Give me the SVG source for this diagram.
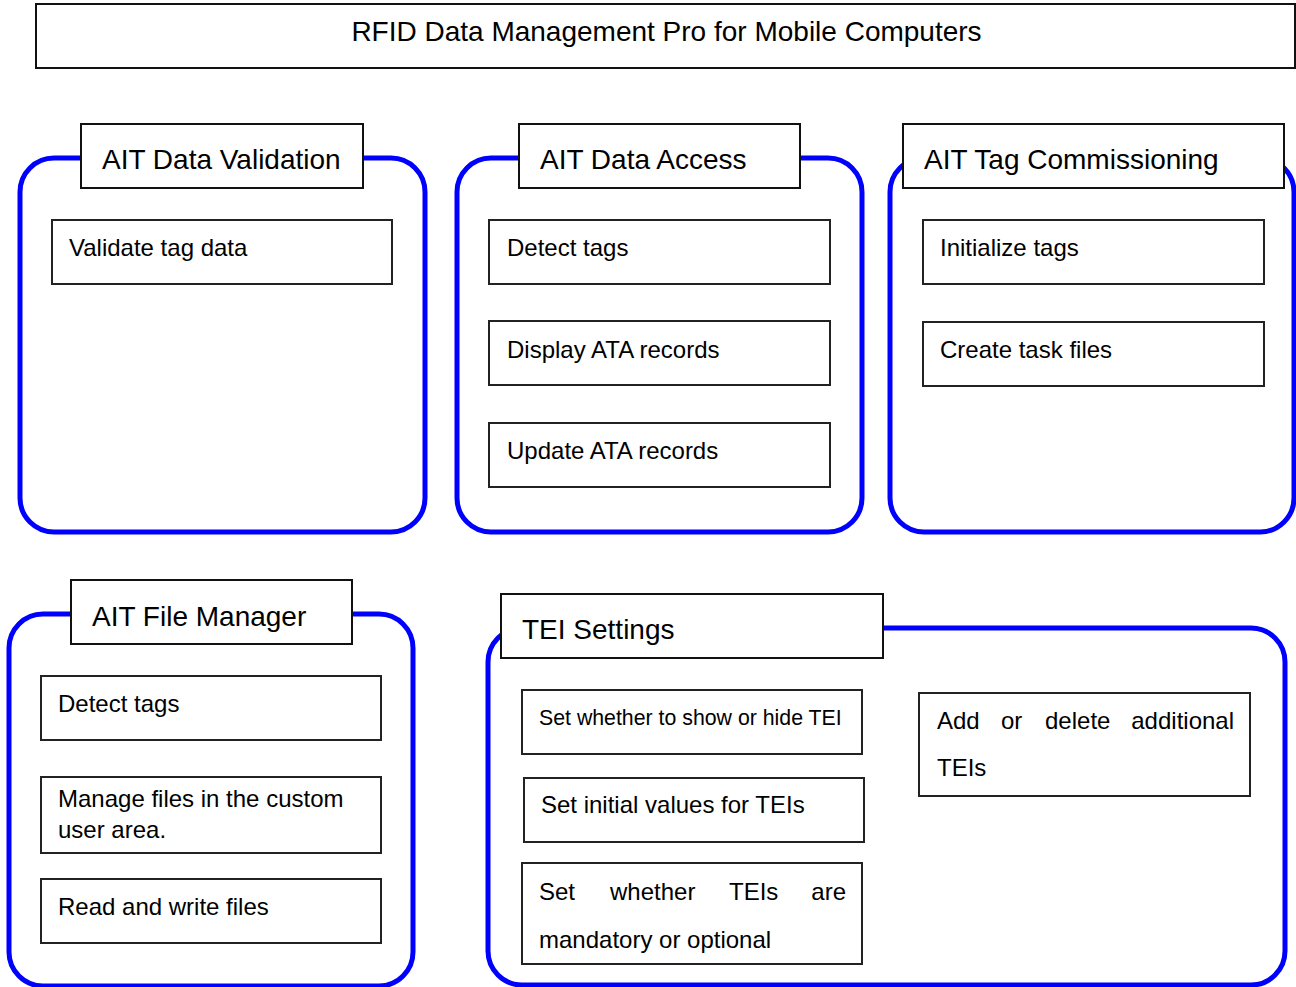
<svg xmlns="http://www.w3.org/2000/svg" width="1296" height="987" viewBox="0 0 1296 987">
<style>
.grp{fill:#fff;stroke:#0000ff;stroke-width:5}
.lbl{fill:#fff;stroke:#111;stroke-width:2}
.box{fill:#fff;stroke:#222;stroke-width:2}
text{font-family:"Liberation Sans",Arial,sans-serif;fill:#000}
.t1{font-size:28px}
.t2{font-size:28px}
.t3{font-size:24px}
.t4{font-size:21.3px}
</style>
<rect width="1296" height="987" fill="#fff"/>
<g id="title">
<rect x="36" y="4" width="1259" height="64" fill="#fff" stroke="#111" stroke-width="2"/>
<text class="t1" x="666.5" y="41" text-anchor="middle">RFID Data Management Pro for Mobile Computers</text>
</g>
<g id="connectors"></g>
<g id="ait-data-validation">
<rect class="grp" x="20" y="158" width="405" height="374" rx="34"/>
<rect class="lbl" x="81" y="124" width="282" height="64"/>
<text class="t2" x="102" y="169">AIT Data Validation</text>
<rect class="box" x="52" y="220" width="340" height="64"/>
<text class="t3" x="69" y="256">Validate tag data</text>
</g>
<g id="ait-data-access">
<rect class="grp" x="457" y="158" width="405" height="374" rx="34"/>
<rect class="lbl" x="519" y="124" width="281" height="64"/>
<text class="t2" x="540" y="169">AIT Data Access</text>
<rect class="box" x="489" y="220" width="341" height="64"/>
<text class="t3" x="507" y="256">Detect tags</text>
<rect class="box" x="489" y="321" width="341" height="64"/>
<text class="t3" x="507" y="358">Display ATA records</text>
<rect class="box" x="489" y="423" width="341" height="64"/>
<text class="t3" x="507" y="459">Update ATA records</text>
</g>
<g id="ait-tag-commissioning">
<rect class="grp" x="890" y="158" width="404" height="374" rx="34"/>
<rect class="lbl" x="903" y="124" width="381" height="64"/>
<text class="t2" x="924" y="169">AIT Tag Commissioning</text>
<rect class="box" x="923" y="220" width="341" height="64"/>
<text class="t3" x="940" y="256">Initialize tags</text>
<rect class="box" x="923" y="322" width="341" height="64"/>
<text class="t3" x="940" y="358">Create task files</text>
</g>
<g id="ait-file-manager">
<rect class="grp" x="9" y="614" width="404" height="372" rx="34"/>
<rect class="lbl" x="71" y="580" width="281" height="64"/>
<text class="t2" x="92" y="626">AIT File Manager</text>
<rect class="box" x="41" y="676" width="340" height="64"/>
<text class="t3" x="58" y="712">Detect tags</text>
<rect class="box" x="41" y="777" width="340" height="76"/>
<text class="t3" x="58" y="807">Manage files in the custom</text>
<text class="t3" x="58" y="838">user area.</text>
<rect class="box" x="41" y="879" width="340" height="64"/>
<text class="t3" x="58" y="915">Read and write files</text>
</g>
<g id="tei-settings">
<rect class="grp" x="488" y="628" width="797" height="357" rx="34"/>
<rect class="lbl" x="501" y="594" width="382" height="64"/>
<text class="t2" x="522" y="639">TEI Settings</text>
<rect class="box" x="522" y="690" width="340" height="64"/>
<text class="t4" x="539" y="725">Set whether to show or hide TEI</text>
<rect class="box" x="524" y="778" width="340" height="64"/>
<text class="t3" x="541" y="813">Set initial values for TEIs</text>
<rect class="box" x="522" y="863" width="340" height="101"/>
<text class="t3" x="539" y="900">Set</text>
<text class="t3" x="610" y="900">whether</text>
<text class="t3" x="729" y="900">TEIs</text>
<text class="t3" x="846" y="900" text-anchor="end">are</text>
<text class="t3" x="539" y="948">mandatory or optional</text>
<rect class="box" x="919" y="693" width="331" height="103"/>
<text class="t3" x="937" y="729">Add</text>
<text class="t3" x="1001" y="729">or</text>
<text class="t3" x="1045" y="729">delete</text>
<text class="t3" x="1234" y="729" text-anchor="end">additional</text>
<text class="t3" x="937" y="776">TEIs</text>
</g>
</svg>
